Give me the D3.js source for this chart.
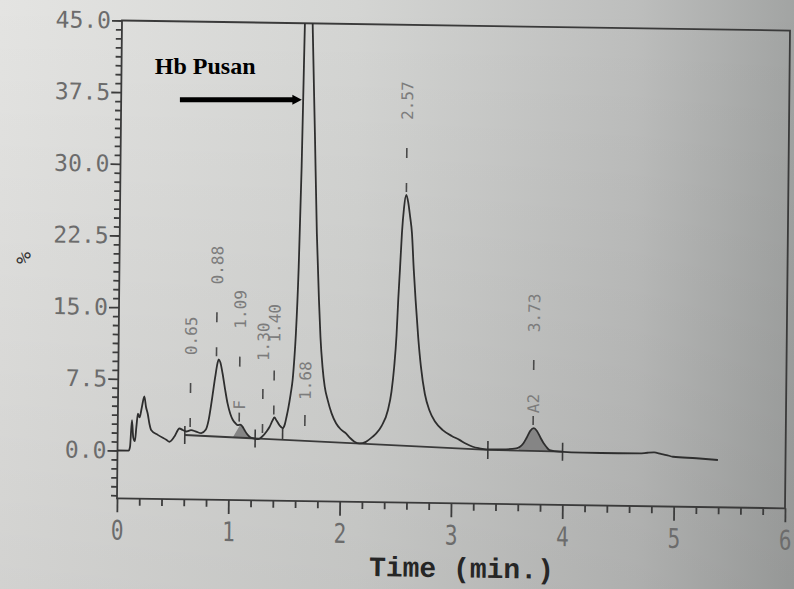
<!DOCTYPE html>
<html>
<head>
<meta charset="utf-8">
<script src="https://cdn.jsdelivr.net/npm/d3@7"></script>
<style>
  html, body { margin: 0; padding: 0; background: #d6d6d4; }
  svg { display: block; }
</style>
</head>
<body>
<svg width="794" height="589"></svg>
<script>
// HPLC chromatogram (Hb Pusan) redrawn from a photographed print-out

const width = 794;
const height = 589;

// detector trace: time (min) and signal (%)
const traceTime = [
  0.000, 0.100, 0.112, 0.127, 0.140, 0.155, 0.168, 0.180, 0.195, 0.215,
  0.236, 0.252, 0.268, 0.285, 0.300, 0.360, 0.437, 0.466, 0.510, 0.554,
  0.584, 0.614, 0.659, 0.704, 0.750, 0.790, 0.815, 0.840, 0.870, 0.890,
  0.900, 0.915, 0.936, 0.960, 0.984, 1.010, 1.032, 1.060, 1.077, 1.100,
  1.120, 1.138, 1.160, 1.184, 1.210, 1.235, 1.262, 1.285, 1.304, 1.335,
  1.363, 1.390, 1.406, 1.425, 1.452, 1.481, 1.500, 1.515, 1.530, 1.550,
  1.566, 1.580, 1.591, 1.610, 1.627, 1.638, 1.645, 1.676, 1.708, 1.715,
  1.743, 1.770, 1.795, 1.812, 1.833, 1.855, 1.883, 1.920, 1.960, 2.000,
  2.050, 2.090, 2.127, 2.172, 2.230, 2.291, 2.322, 2.370, 2.425, 2.455,
  2.477, 2.495, 2.507, 2.520, 2.534, 2.550, 2.569, 2.588, 2.605, 2.624,
  2.643, 2.663, 2.690, 2.717, 2.755, 2.797, 2.850, 2.919, 3.000, 3.070,
  3.130, 3.191, 3.250, 3.312, 3.450, 3.581, 3.611, 3.645, 3.672, 3.705,
  3.737, 3.765, 3.798, 3.825, 3.850, 3.880, 3.970, 4.180, 4.500, 4.690,
  4.760, 4.820, 4.880, 4.930, 4.990, 5.200, 5.393
];
const traceValue = [
  0.0, 0.0, 0.4, 3.2, 1.4, 1.0, 2.6, 3.9, 3.5, 4.6,
  5.7, 4.6, 3.9, 2.8, 2.2, 1.7, 1.2, 1.0, 1.55, 2.4,
  2.25, 2.1, 2.25, 2.1, 1.95, 2.3, 3.3, 5.2, 7.8, 9.3,
  9.7, 9.4, 8.25, 6.6, 5.1, 4.0, 3.4, 3.0, 2.85, 2.9,
  2.7, 2.35, 1.95, 1.65, 1.5, 1.45, 1.42, 1.55, 1.75, 2.2,
  2.7, 3.4, 3.7, 3.4, 2.9, 2.6, 3.0, 3.8, 4.7, 6.2,
  7.65, 10.0, 12.5, 19.5, 30.0, 40.5, 47.0, 62.0, 47.0, 44.0,
  33.5, 23.0, 16.1, 12.2, 9.1, 7.0, 5.6, 4.2, 3.2, 2.6,
  2.15, 1.65, 1.3, 1.12, 1.3, 1.85, 2.2, 3.0, 4.67, 6.6,
  9.2, 12.5, 16.2, 19.5, 23.2, 25.8, 27.2, 26.4, 25.0, 23.2,
  19.5, 16.2, 12.3, 9.25, 6.4, 4.7, 3.5, 2.65, 2.05, 1.65,
  1.25, 0.95, 0.8, 0.7, 0.72, 0.85, 1.0, 1.4, 1.95, 2.7,
  3.0, 2.7, 2.0, 1.45, 1.07, 0.73, 0.57, 0.5, 0.5, 0.52,
  0.6, 0.64, 0.5, 0.39, 0.22, 0.1, -0.05
];

// integration baseline and its event marks
const baseTime = [0.603, 3.326, 3.997];
const baseValue = [1.73, 0.64, 0.58];
const eventTimes = [0.603, 1.235, 3.326, 3.997];
const dropTimes = [1.481];

// peaks: retention time, apex height (null = off scale), name
const peakTimes = [0.65, 0.88, 1.09, 1.30, 1.40, 1.68, 2.57, 3.73];
const peakHeights = [2.25, 9.7, 2.9, 1.75, 3.7, null, 27.2, 3.0];
const peakNames = ["", "", "F", "", "", "", "", "A2"];

// shaded (named) peak areas
const shadeFoot = [1.035, 3.6];
const shadeStart = [1.08, 3.6];
const shadeEnd = [1.235, 3.88];

const xTicks = [0, 1, 2, 3, 4, 5, 6];
const yTicks = [0, 7.5, 15, 22.5, 30, 37.5, 45];

const svg = d3.select("svg");

// paper background, lit from the left
const defs = svg.append("defs");
const paper = defs.append("linearGradient").attr("id", "paper");
paper.append("stop").attr("offset", "0%").attr("stop-color", "#e4e4e2");
paper.append("stop").attr("offset", "45%").attr("stop-color", "#d4d5d3");
paper.append("stop").attr("offset", "80%").attr("stop-color", "#bdbebd");
paper.append("stop").attr("offset", "100%").attr("stop-color", "#a2a4a3");
const shade = defs.append("linearGradient").attr("id", "shadeDown")
  .attr("x1", 0).attr("y1", 0).attr("x2", 0).attr("y2", 1);
shade.append("stop").attr("offset", "0%").attr("stop-color", "#000").attr("stop-opacity", 0);
shade.append("stop").attr("offset", "100%").attr("stop-color", "#000").attr("stop-opacity", 0.08);

svg.append("rect").attr("width", width).attr("height", height).attr("fill", "url(#paper)");
svg.append("rect").attr("width", width).attr("height", height).attr("fill", "url(#shadeDown)");

const x = d3.scaleLinear().domain([0, 6]).range([117, 785]);
const y = d3.scaleLinear().domain([-5, 45]).range([498.3, 20.5]);

defs.append("clipPath").attr("id", "plotClip")
  .append("rect")
  .attr("x", x(0)).attr("y", y(45))
  .attr("width", x(6) - x(0)).attr("height", y(-5) - y(45));

// the photo is slightly skewed
const chart = svg.append("g")
  .attr("transform", "matrix(1,0.015,-0.0105,1,5.23,-1.755)");

const baseAt = d3.scaleLinear().domain(baseTime).range(baseValue).clamp(true);
const traceAt = d3.scaleLinear().domain(traceTime).range(traceValue);

// y axis
const yAxis = chart.append("g")
  .attr("transform", `translate(${x(0)},0)`)
  .call(d3.axisLeft(y).tickValues(yTicks).tickFormat(d3.format(".1f"))
    .tickSize(10).tickPadding(1));
const yMinor = d3.range(-5, 49).filter((k) => k % 8 !== 0)
  .map((k) => k * 7.5 / 8).filter((v) => v >= -5 && v <= 45);
chart.append("g")
  .attr("transform", `translate(${x(0)},0)`)
  .call(d3.axisLeft(y).tickValues(yMinor).tickSize(6).tickFormat(""));

// x axis
const xAxis = chart.append("g")
  .attr("transform", `translate(0,${y(-5)})`)
  .call(d3.axisBottom(x).tickValues(xTicks).tickFormat(d3.format("d"))
    .tickSize(14).tickPadding(8));
const xMinor = d3.range(1, 30).filter((i) => i % 5 !== 0).map((i) => i / 5);
chart.append("g")
  .attr("transform", `translate(0,${y(-5)})`)
  .call(d3.axisBottom(x).tickValues(xMinor).tickSize(7).tickFormat(""));

chart.selectAll(".domain").remove();
chart.selectAll(".tick line").attr("stroke", "#3c3c3c").attr("stroke-width", 1.8);

yAxis.selectAll("text")
  .attr("font-family", "DejaVu Sans Mono, monospace")
  .attr("font-size", 23)
  .attr("fill", "#6c6c6c");

xAxis.selectAll("text")
  .attr("font-family", "DejaVu Sans Mono, monospace")
  .attr("font-size", 27)
  .attr("fill", "#6c6c6c")
  .attr("transform", "scale(0.78,1)");

// frame
chart.append("rect")
  .attr("x", x(0)).attr("y", y(45))
  .attr("width", x(6) - x(0)).attr("height", y(-5) - y(45))
  .attr("fill", "none")
  .attr("stroke", "#3a3a3a")
  .attr("stroke-width", 1.8);

// shaded peak areas
shadeFoot.forEach((foot, i) => {
  const pts = [[foot, baseAt(foot)]];
  traceTime.forEach((t, j) => {
    if (t >= shadeStart[i] && t <= shadeEnd[i]) pts.push([t, traceValue[j]]);
  });
  pts.push([shadeEnd[i], traceAt(shadeEnd[i])]);
  pts.push([shadeEnd[i], baseAt(shadeEnd[i])]);
  chart.append("path")
    .attr("d", d3.line().x((d) => x(d[0])).y((d) => y(d[1]))(pts) + "Z")
    .attr("fill", "#858585")
    .attr("stroke", "none");
});

// baseline
chart.append("path")
  .attr("d", d3.line().x((d) => x(d[0])).y((d) => y(d[1]))(baseTime.map((t, i) => [t, baseValue[i]])))
  .attr("fill", "none")
  .attr("stroke", "#3a3a3a")
  .attr("stroke-width", 1.8);

chart.selectAll(".event")
  .data(eventTimes)
  .enter()
  .append("line")
  .attr("x1", (t) => x(t)).attr("x2", (t) => x(t))
  .attr("y1", (t) => y(baseAt(t)) - 9)
  .attr("y2", (t) => y(baseAt(t)) + 9)
  .attr("stroke", "#3a3a3a")
  .attr("stroke-width", 1.6);

chart.selectAll(".drop")
  .data(dropTimes)
  .enter()
  .append("line")
  .attr("x1", (t) => x(t)).attr("x2", (t) => x(t))
  .attr("y1", (t) => y(traceAt(t)))
  .attr("y2", (t) => y(baseAt(t)))
  .attr("stroke", "#3a3a3a")
  .attr("stroke-width", 1.6);

// trace
chart.append("path")
  .datum(traceTime.map((t, i) => [t, traceValue[i]]))
  .attr("clip-path", "url(#plotClip)")
  .attr("d", d3.line().curve(d3.curveMonotoneX).x((d) => x(d[0])).y((d) => y(d[1])))
  .attr("fill", "none")
  .attr("stroke", "#2e2e2e")
  .attr("stroke-width", 1.8);

// peak marks and retention time labels
const fmt = d3.format(".2f");
const addVText = (px, yBottom, txt, size) => {
  chart.append("text")
    .attr("x", px).attr("y", yBottom)
    .attr("dy", "0.36em")
    .attr("transform", `rotate(-90,${px},${yBottom})`)
    .attr("font-family", "DejaVu Sans Mono, monospace")
    .attr("font-size", size)
    .attr("fill", "#7c7c7c")
    .text(txt);
};
const addTick = (px, y1, y2) => {
  chart.append("line")
    .attr("x1", px).attr("x2", px).attr("y1", y1).attr("y2", y2)
    .attr("stroke", "#4a4a4a").attr("stroke-width", 1.6);
};

peakTimes.forEach((t, i) => {
  const px = x(t);
  if (peakHeights[i] === null) {
    const yb = y(baseAt(t));
    addTick(px, yb - 26, yb - 15);
    addVText(px, yb - 41, fmt(t), 16);
    return;
  }
  const ya = y(peakHeights[i]);
  addTick(px, ya - 12, ya - 3);
  const off = peakNames[i] ? 63 : 42;
  if (peakNames[i]) addVText(px, ya - 15, peakNames[i], 16);
  addTick(px, ya - off - 5, ya - off + 5);
  addVText(px, ya - off - 33, fmt(t), 16);
});

// axis titles
chart.append("text")
  .attr("x", x(0) - 96).attr("y", y(20))
  .attr("transform", `rotate(-90,${x(0) - 96},${y(20)})`)
  .attr("text-anchor", "middle")
  .attr("dy", "0.35em")
  .attr("font-family", "DejaVu Sans Mono, monospace")
  .attr("font-size", 20)
  .attr("fill", "#333")
  .text("%");

chart.append("text")
  .attr("x", x(3.1)).attr("y", y(-5) + 74)
  .attr("text-anchor", "middle")
  .attr("font-family", "Liberation Mono, monospace")
  .attr("font-weight", "bold")
  .attr("font-size", 28)
  .attr("fill", "#262626")
  .text("Time (min.)");

// annotation added on top of the photo
svg.append("text")
  .attr("x", x(0.34)).attr("y", y(39.4))
  .attr("font-family", "Liberation Serif, Times New Roman, serif")
  .attr("font-weight", "bold")
  .attr("font-size", 24)
  .attr("fill", "#000")
  .text("Hb Pusan");

const arrowY = y(36.7);
svg.append("line")
  .attr("x1", x(0.565)).attr("x2", x(1.585))
  .attr("y1", arrowY).attr("y2", arrowY)
  .attr("stroke", "#000")
  .attr("stroke-width", 5);
svg.append("path")
  .attr("d", `M${x(1.575)},${arrowY - 5}L${x(1.66)},${arrowY}L${x(1.575)},${arrowY + 5}Z`)
  .attr("fill", "#000");
</script>
</body>
</html>
